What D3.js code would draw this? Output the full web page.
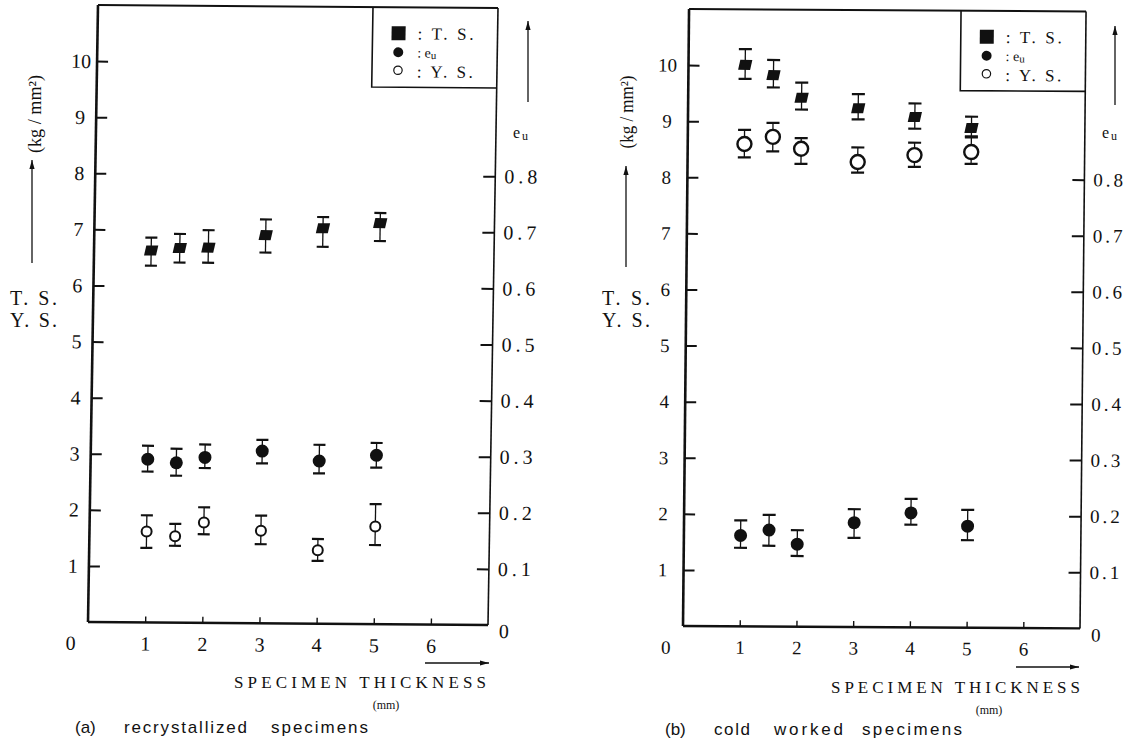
<!DOCTYPE html>
<html lang="en">
<head>
<meta charset="utf-8">
<title>T.S., Y.S. and e_u vs specimen thickness</title>
<script src="https://cdn.jsdelivr.net/npm/d3@7"></script>
<style>
  body {margin: 0; background: white;}
  svg text {fill: #111;}
</style>
</head>
<body>
<svg width="1127" height="742"></svg>
<script>
// thickness (mm) of the specimens
const thickness = [1, 1.5, 2, 3, 4, 5];

// (a) recrystallized specimens, kg/mm2 and e_u
const tsA   = [6.63, 6.68, 6.69, 6.92, 7.05, 7.15];
const tsAHi = [6.86, 6.93, 7.00, 7.20, 7.25, 7.33];
const tsALo = [6.36, 6.42, 6.42, 6.61, 6.72, 6.83];
const ysA   = [1.62, 1.54, 1.79, 1.65, 1.31, 1.74];
const ysAHi = [1.91, 1.76, 2.06, 1.92, 1.51, 2.14];
const ysALo = [1.33, 1.37, 1.58, 1.41, 1.12, 1.41];
const euA   = [0.291, 0.285, 0.295, 0.307, 0.290, 0.301];
const euAHi = [0.315, 0.310, 0.318, 0.327, 0.319, 0.323];
const euALo = [0.269, 0.262, 0.276, 0.285, 0.268, 0.279];

// (b) cold worked specimens
const tsB   = [10.01, 9.83, 9.43, 9.25, 9.10, 8.91];
const tsBHi = [10.29, 10.10, 9.70, 9.50, 9.34, 9.11];
const tsBLo = [9.76, 9.61, 9.22, 9.05, 8.89, 8.76];
const ysB   = [8.60, 8.73, 8.52, 8.29, 8.42, 8.48];
const ysBHi = [8.85, 8.98, 8.71, 8.55, 8.64, 8.74];
const ysBLo = [8.36, 8.47, 8.25, 8.10, 8.21, 8.27];
const euB   = [0.162, 0.172, 0.147, 0.186, 0.204, 0.181];
const euBHi = [0.189, 0.199, 0.172, 0.210, 0.229, 0.210];
const euBLo = [0.140, 0.144, 0.126, 0.159, 0.183, 0.156];

// tick labels
const stressTicks = [1, 2, 3, 4, 5, 6, 7, 8, 9, 10];
const euTicks = [0.1, 0.2, 0.3, 0.4, 0.5, 0.6, 0.7, 0.8];
const thickTicks = [1, 2, 3, 4, 5, 6];

const SERIF = "Liberation Serif, DejaVu Serif, Noto Serif, Times New Roman, Times, FreeSerif, serif";
const SANS = "Liberation Sans, Arial, sans-serif";
const INK = "#111";

const svg = d3.select("svg");

function rows(xs, v, lo, hi) {
  return xs.map((t, i) => ({t: t, v: v[i], lo: lo[i], hi: hi[i]}));
}

// the scanned panels are slightly sheared, b = slope of horizontals, c = slope of verticals
const panels = [
  {x0: 88, x1: 488, y0: 622, y1: 5, b: 0.0075, c: -0.0162, fs: 20, lab: 16, rlab: 9, ls: 4,
   cap: 12, rOpen: 5, rFill: 6.5, sq: 12, oStroke: 2,
   ts: rows(thickness, tsA, tsALo, tsAHi), ys: rows(thickness, ysA, ysALo, ysAHi), eu: rows(thickness, euA, euALo, euAHi)},
  {x0: 683, x1: 1080, y0: 626, y1: 9, b: 0.006, c: -0.0098, fs: 19, lab: 21, rlab: 9, ls: 3,
   cap: 13, rOpen: 7, rFill: 6.5, sq: 12, oStroke: 2.4,
   ts: rows(thickness, tsB, tsBLo, tsBHi), ys: rows(thickness, ysB, ysBLo, ysBHi), eu: rows(thickness, euB, euBLo, euBHi)}
];

function errorBars(g, data, x, y, cap) {
  let eb = g.append("g").attr("stroke", INK);
  eb.selectAll("line.stem").data(data).enter().append("line")
    .attr("x1", d => x(d.t)).attr("x2", d => x(d.t))
    .attr("y1", d => y(d.lo)).attr("y2", d => y(d.hi))
    .attr("stroke-width", 1.3);
  eb.selectAll("line.top").data(data).enter().append("line")
    .attr("x1", d => x(d.t) - cap / 2).attr("x2", d => x(d.t) + cap / 2)
    .attr("y1", d => y(d.hi)).attr("y2", d => y(d.hi))
    .attr("stroke-width", 2.2);
  eb.selectAll("line.bot").data(data).enter().append("line")
    .attr("x1", d => x(d.t) - cap / 2).attr("x2", d => x(d.t) + cap / 2)
    .attr("y1", d => y(d.lo)).attr("y2", d => y(d.lo))
    .attr("stroke-width", 2.2);
}

function drawPanel(p) {
  let g = svg.append("g")
    .attr("transform", `matrix(1,${p.b},${p.c},1,${-p.c * p.y0},${-p.b * p.x0})`);

  let x = d3.scaleLinear().domain([0, 7]).range([p.x0, p.x1]);
  let y = d3.scaleLinear().domain([0, 11]).range([p.y0, p.y1]);
  let yEu = d3.scaleLinear().domain([0, 1.1]).range([p.y0, p.y1]);

  // left axis, ticks inward
  g.append("g")
    .attr("transform", `translate(${p.x0},0)`)
    .call(d3.axisLeft(y).tickValues(stressTicks).tickSizeInner(-11).tickSizeOuter(0)
      .tickPadding(p.lab).tickFormat(d3.format("d")))
    .attr("font-family", SERIF).attr("font-size", p.fs)
    .call(a => a.select(".domain").remove())
    .call(a => a.selectAll("line").attr("stroke", INK).attr("stroke-width", 2))
    .call(a => a.selectAll("text").attr("text-anchor", "middle").attr("fill", INK));

  // right axis for e_u
  g.append("g")
    .attr("transform", `translate(${p.x1},0)`)
    .call(d3.axisRight(yEu).tickValues(euTicks).tickSizeInner(-12).tickSizeOuter(0)
      .tickPadding(p.rlab).tickFormat(d3.format(".1f")))
    .attr("font-family", SERIF).attr("font-size", p.fs)
    .call(a => a.select(".domain").remove())
    .call(a => a.selectAll("line").attr("stroke", INK).attr("stroke-width", 2))
    .call(a => a.selectAll("text").attr("fill", INK).style("letter-spacing", p.ls + "px"));

  // bottom axis
  g.append("g")
    .attr("transform", `translate(0,${p.y0})`)
    .call(d3.axisBottom(x).tickValues(thickTicks).tickSizeInner(-6).tickSizeOuter(0)
      .tickPadding(14).tickFormat(d3.format("d")))
    .attr("font-family", SERIF).attr("font-size", p.fs)
    .call(a => a.select(".domain").remove())
    .call(a => a.selectAll("line").attr("stroke", INK).attr("stroke-width", 1.4))
    .call(a => a.selectAll("text").attr("fill", INK));

  // origin labels
  g.append("text").attr("x", x(0) - 17).attr("y", y(0) + 28)
    .attr("text-anchor", "middle").attr("font-family", SERIF).attr("font-size", p.fs).text("0");
  g.append("text").attr("x", x(7) + 16).attr("y", y(0) + 13)
    .attr("text-anchor", "middle").attr("font-family", SERIF).attr("font-size", p.fs).text("0");

  // frame
  let frame = g.append("g").attr("fill", "none").attr("stroke", INK);
  frame.append("path").attr("d", `M${x(0)},${y(0)}V${y(11)}`).attr("stroke-width", 2.6);
  frame.append("path").attr("d", `M${x(0)},${y(11)}H${x(7)}`).attr("stroke-width", 2);
  frame.append("path").attr("d", `M${x(7)},${y(11)}V${y(0)}`).attr("stroke-width", 1.6);
  frame.append("path").attr("d", `M${x(0)},${y(0)}H${x(7)}`).attr("stroke-width", 2.4);

  // error bars
  errorBars(g, p.ts, x, y, p.cap);
  errorBars(g, p.ys, x, y, p.cap);
  errorBars(g, p.eu, x, yEu, p.cap);

  // T.S. : slanted filled squares
  g.selectAll("rect.ts").data(p.ts).enter().append("rect")
    .attr("x", -p.sq / 2).attr("y", -p.sq / 2 + 1)
    .attr("width", p.sq).attr("height", p.sq - 2)
    .attr("transform", d => `translate(${x(d.t)},${y(d.v)}) skewX(-12)`)
    .attr("fill", INK);

  // Y.S. : open circles
  g.selectAll("circle.ys").data(p.ys).enter().append("circle")
    .attr("cx", d => x(d.t)).attr("cy", d => y(d.v)).attr("r", p.rOpen)
    .attr("fill", "white").attr("stroke", INK).attr("stroke-width", p.oStroke);

  // e_u : filled circles
  g.selectAll("circle.eu").data(p.eu).enter().append("circle")
    .attr("cx", d => x(d.t)).attr("cy", d => yEu(d.v)).attr("r", p.rFill)
    .attr("fill", INK);

  // legend box in the upper right corner
  let lx = x(7) - 125, ly = y(11);
  let leg = g.append("g");
  leg.append("path").attr("d", `M${lx},${ly}V${ly + 80}H${x(7)}`)
    .attr("fill", "none").attr("stroke", INK).attr("stroke-width", 1.6);
  leg.append("rect").attr("x", lx + 19).attr("y", ly + 19).attr("width", 14).attr("height", 14).attr("fill", INK);
  leg.append("circle").attr("cx", lx + 26).attr("cy", ly + 45).attr("r", 5).attr("fill", INK);
  leg.append("circle").attr("cx", lx + 26).attr("cy", ly + 63).attr("r", 4.2)
    .attr("fill", "white").attr("stroke", INK).attr("stroke-width", 1.2);
  leg.append("text").attr("x", lx + 45).attr("y", ly + 32)
    .attr("font-family", SERIF).attr("font-size", 17)
    .attr("textLength", 56).attr("lengthAdjust", "spacing").text(": T. S.");
  let te = leg.append("text").attr("x", lx + 45).attr("y", ly + 50)
    .attr("font-family", SERIF).attr("font-size", 14);
  te.append("tspan").text(": e");
  te.append("tspan").attr("font-size", 11).attr("dy", 1.5).text("u");
  leg.append("text").attr("x", lx + 45).attr("y", ly + 70)
    .attr("font-family", SERIF).attr("font-size", 17)
    .attr("textLength", 56).attr("lengthAdjust", "spacing").text(": Y. S.");
}

panels.forEach(drawPanel);

// --- texts around the panels (page coordinates) ---
function arrow(x1, y1, x2, y2) {
  let ang = Math.atan2(y2 - y1, x2 - x1) * 180 / Math.PI;
  svg.append("line").attr("x1", x1).attr("y1", y1).attr("x2", x2).attr("y2", y2)
    .attr("stroke", INK).attr("stroke-width", 1.3);
  svg.append("path").attr("d", "M0,0L-9,-2.6L-9,2.6Z")
    .attr("transform", `translate(${x2},${y2}) rotate(${ang})`).attr("fill", INK);
}

function label(x, y, txt, opts) {
  let t = svg.append("text").attr("x", x).attr("y", y)
    .attr("font-family", opts.font || SERIF).attr("font-size", opts.size || 18)
    .attr("text-anchor", opts.anchor || "start").text(txt);
  if (opts.len) t.attr("textLength", opts.len).attr("lengthAdjust", "spacing");
  return t;
}

function unitLabel(cx, cy, len) {
  svg.append("text")
    .attr("transform", `translate(${cx + 6},${cy}) rotate(-90)`)
    .attr("text-anchor", "middle").attr("font-family", SERIF).attr("font-size", 18)
    .attr("textLength", len).attr("lengthAdjust", "spacingAndGlyphs")
    .text("(kg / mm\u00b2)");
}

function euLabel(x, y) {
  let t = svg.append("text").attr("x", x).attr("y", y)
    .attr("font-family", SERIF).attr("font-size", 16);
  t.append("tspan").text("e");
  t.append("tspan").attr("font-size", 12).attr("dx", 2).attr("dy", 2).text("u");
}

// panel (a)
unitLabel(35, 114, 78);
arrow(32, 263, 32, 160);
label(10, 305, "T. S.", {size: 20, len: 47});
label(10, 327, "Y. S.", {size: 20, len: 47});
arrow(528, 102, 528, 21);
euLabel(513, 138);
arrow(425, 663, 489, 663);
label(234, 688, "SPECIMEN THICKNESS", {size: 17, len: 252});
label(386, 709, "(mm)", {size: 12, anchor: "middle"});
label(75, 733, "(a)", {font: SANS, size: 17});
label(124, 733, "recrystallized", {font: SANS, size: 17, len: 123});
label(271, 733, "specimens", {font: SANS, size: 17, len: 97});

// panel (b)
unitLabel(627, 112, 73);
arrow(626, 267, 626, 166);
label(602, 305, "T. S.", {size: 20, len: 48});
label(602, 327, "Y. S.", {size: 20, len: 48});
arrow(1115, 105, 1115, 26);
euLabel(1102, 138);
arrow(1016, 667, 1079, 667);
label(831, 693, "SPECIMEN THICKNESS", {size: 17, len: 249});
label(989, 714, "(mm)", {size: 12, anchor: "middle"});
label(665, 735, "(b)", {font: SANS, size: 17});
label(714, 735, "cold", {font: SANS, size: 17, len: 36});
label(774, 735, "worked", {font: SANS, size: 17, len: 69});
label(862, 735, "specimens", {font: SANS, size: 17, len: 100});
</script>
</body>
</html>
